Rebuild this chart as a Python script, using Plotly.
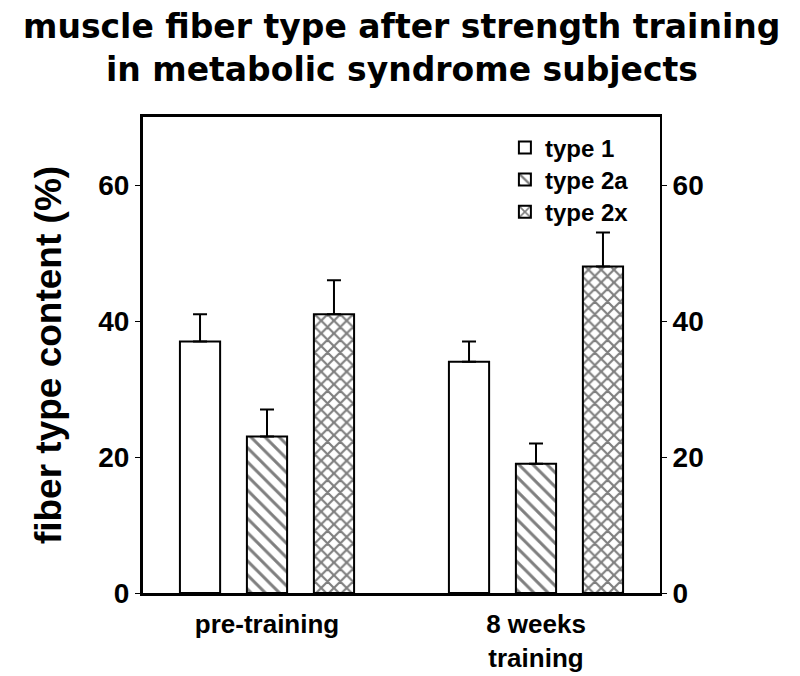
import plotly.graph_objects as go

groups = ["pre-training", "8 weeks<br>training"]
group_pos = [0, 1]
series_names = ["type 1", "type 2a", "type 2x"]
type1 = [37, 34]
type2a = [23, 19]
type2x = [41, 48]
err1 = [4, 3]
err2a = [4, 3]
err2x = [5, 5]
yticks = [0, 20, 40, 60]
title_lines = ["muscle fiber type after strength training", "in metabolic syndrome subjects"]

FONT = "Liberation Sans, Arial, sans-serif"
TFONT = "DejaVu Sans, Verdana, sans-serif"

patterns = [
    dict(shape="", fgcolor="black", bgcolor="white"),
    dict(shape="\\", fgcolor="black", bgcolor="white", size=10, solidity=0.3),
    dict(shape="x", fgcolor="black", bgcolor="white", size=9, solidity=0.42),
]
legend_ids = ["legend", "legend2", "legend3"]
legend_y = [0.935, 0.868, 0.800]

fig = go.Figure()
for name, vals, errs, pat, lg in zip(series_names, [type1, type2a, type2x],
                                     [err1, err2a, err2x], patterns, legend_ids):
    fig.add_trace(go.Bar(
        x=group_pos, y=vals, name=name, legend=lg,
        marker=dict(color="white", line=dict(color="black", width=2), pattern=pat),
        error_y=dict(type="data", array=errs, arrayminus=[0] * len(errs), symmetric=False,
                     color="black", thickness=2, width=7),
    ))

# invisible trace so the right-hand axis is drawn
fig.add_trace(go.Scatter(x=[None], y=[None], yaxis="y2", showlegend=False, hoverinfo="skip"))

leg_common = dict(x=0.70, xanchor="left", yanchor="middle", bgcolor="rgba(0,0,0,0)",
                  font=dict(family=FONT, size=24, weight="bold", color="black"))

fig.update_layout(
    width=792, height=668,
    margin=dict(l=135, r=140, t=109, b=83, autoexpand=False),
    paper_bgcolor="white", plot_bgcolor="white",
    barmode="group", bargap=0.253, bargroupgap=0.4,
    font=dict(family=FONT, color="black"),
    xaxis=dict(range=[-0.461, 1.461], tickvals=group_pos, ticktext=groups,
               showgrid=False, zeroline=False, showline=True, linecolor="black", linewidth=3,
               mirror=True, ticks="", ticklabelstandoff=6, automargin=False,
               tickfont=dict(size=26, weight="bold")),
    yaxis=dict(range=[0, 70], tickvals=yticks, showgrid=False, zeroline=False,
               showline=True, linecolor="black", linewidth=3, ticks="outside", ticklen=5,
               tickwidth=1, tickcolor="black", tickfont=dict(size=28, weight="bold"),
               automargin=False,
               title=dict(text="fiber type content (%)", standoff=26,
                          font=dict(size=37, weight="bold"))),
    yaxis2=dict(range=[0, 70], tickvals=yticks, overlaying="y", side="right",
                showgrid=False, zeroline=False, showline=True, linecolor="black", linewidth=2,
                ticks="outside", ticklen=5, tickwidth=1, tickcolor="black",
                automargin=False, tickfont=dict(size=28, weight="bold")),
    legend=dict(y=legend_y[0], **leg_common),
    legend2=dict(y=legend_y[1], **leg_common),
    legend3=dict(y=legend_y[2], **leg_common),
    showlegend=True,
    annotations=[
        dict(text=title_lines[0], x=0.5, xref="paper", xanchor="center",
             y=(585 - 18) / 476, yref="paper", yanchor="middle", showarrow=False,
             font=dict(family=TFONT, size=33, weight="bold", color="black")),
        dict(text=title_lines[1], x=0.5, xref="paper", xanchor="center",
             y=(585 - 62) / 476, yref="paper", yanchor="middle", showarrow=False,
             font=dict(family=TFONT, size=33, weight="bold", color="black")),
    ],
)

fig.write_html("out.html")
